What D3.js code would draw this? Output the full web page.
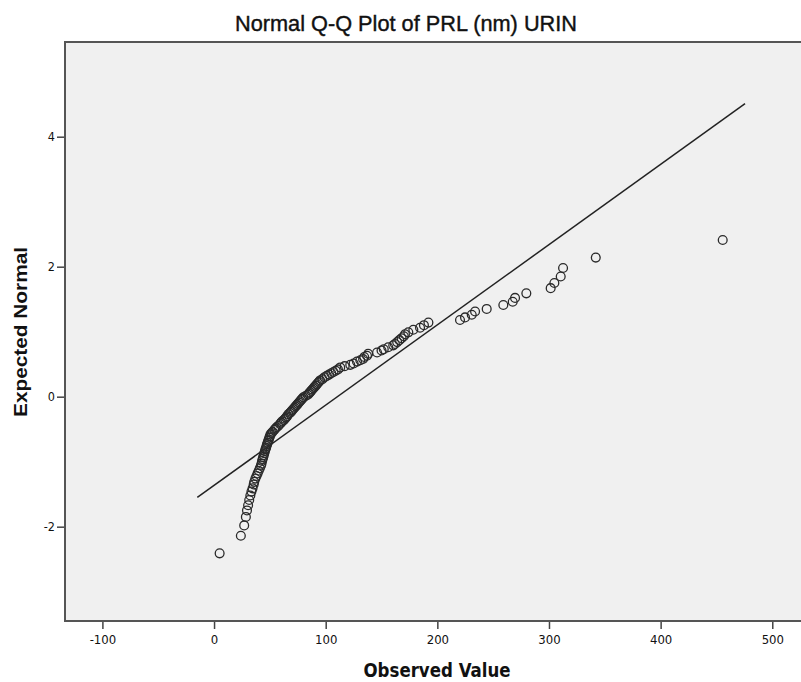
<!DOCTYPE html>
<html>
<head>
<meta charset="utf-8">
<script src="https://cdn.jsdelivr.net/npm/d3@7"></script>
<style>
  body { margin: 0; background: #fff; }
  .tick text { font-family: "DejaVu Sans Condensed", "DejaVu Sans", sans-serif; font-stretch: condensed; fill: #111; }
  .tick line { stroke: #444; stroke-width: 1.5; }
</style>
</head>
<body>
<div id="chart"></div>
<script>
var observed = [
  5, 24, 27, 28.5, 29.5, 30.5, 31.5, 32.5, 33.5, 34.5,
  35.5, 36, 37, 38, 39, 40, 41, 42, 42.5, 43,
  43.5, 44, 44.5, 45, 45.5, 46, 46.5, 47, 47.5, 48,
  48.5, 49, 49.5, 50, 50.5, 51.5, 52.5, 54, 55, 56,
  57.5, 59, 60, 61, 62.5, 63.5, 64.5, 65.5, 66.5, 68,
  69, 70, 71, 72, 73, 74, 75, 76, 77, 78,
  79, 80, 82, 84, 85, 86, 87, 88, 89, 90,
  91, 92, 93, 94, 95, 97, 99, 101, 103, 105,
  107, 109, 111, 113, 117, 122, 125, 128, 131, 133.5,
  134.5, 137, 138, 146, 150, 152, 156, 160.5, 162, 164,
  166, 168, 170, 171, 174, 178.5, 184.5, 188, 192, 220.3,
  224.8, 230.8, 233.8, 244.2, 259.1, 267.5, 269.6, 279.7, 301.5, 304.8,
  310.5, 312.6, 341.9, 455.6
];
var expected = [
  -2.41, -2.14, -1.98, -1.85, -1.75, -1.67, -1.59, -1.52, -1.46, -1.41,
  -1.35, -1.31, -1.26, -1.22, -1.18, -1.14, -1.10, -1.06, -1.03, -0.99,
  -0.96, -0.93, -0.90, -0.87, -0.84, -0.81, -0.79, -0.76, -0.73, -0.71,
  -0.68, -0.66, -0.63, -0.61, -0.58, -0.56, -0.54, -0.51, -0.49, -0.47,
  -0.45, -0.42, -0.40, -0.38, -0.36, -0.34, -0.32, -0.30, -0.27, -0.25,
  -0.23, -0.21, -0.19, -0.17, -0.15, -0.13, -0.11, -0.09, -0.07, -0.05,
  -0.03, -0.01, 0.01, 0.03, 0.05, 0.07, 0.09, 0.11, 0.13, 0.15,
  0.17, 0.19, 0.21, 0.23, 0.25, 0.27, 0.30, 0.32, 0.34, 0.36,
  0.38, 0.40, 0.42, 0.45, 0.47, 0.49, 0.51, 0.54, 0.56, 0.58,
  0.61, 0.63, 0.66, 0.68, 0.71, 0.73, 0.76, 0.79, 0.81, 0.84,
  0.87, 0.90, 0.93, 0.96, 0.99, 1.03, 1.06, 1.10, 1.14, 1.18,
  1.22, 1.26, 1.31, 1.35, 1.41, 1.46, 1.52, 1.59, 1.67, 1.75,
  1.85, 1.98, 2.14, 2.41
];

// Reference line: y = (x - mean) / sd, drawn over this observed range
var lineMean = 110.5,
    lineSd = 81,
    lineRange = [-15, 475.6];

var xTicks = [-100, 0, 100, 200, 300, 400, 500],
    yTicks = [-2, 0, 2, 4];

var margin = { top: 42, right: -5, bottom: 61, left: 65 },
    width = 801 - margin.left - margin.right,
    height = 682 - margin.top - margin.bottom;

var x = d3.scaleLinear()
    .domain([-133.5, 530.2])
    .range([0, width]);

var y = d3.scaleLinear()
    .domain([-3.451, 5.457])
    .range([height, 0]);

var svg = d3.select("#chart").append("svg")
    .attr("width", 801)
    .attr("height", 682);

// Title
svg.append("text")
    .attr("x", 406)
    .attr("y", 31)
    .attr("text-anchor", "middle")
    .attr("font-family", "Liberation Sans, Arial, sans-serif")
    .attr("font-size", 22)
    .attr("textLength", 342)
    .attr("lengthAdjust", "spacingAndGlyphs")
    .attr("fill", "#111")
    .attr("stroke", "#111")
    .attr("stroke-width", 0.4)
    .text("Normal Q-Q Plot of PRL (nm) URIN");

var g = svg.append("g")
    .attr("transform", "translate(" + margin.left + "," + margin.top + ")");

// Plot background
g.append("rect")
    .attr("width", width)
    .attr("height", height)
    .attr("fill", "#f0f0f0");

// Axes
var xAxis = d3.axisBottom(x)
    .tickValues(xTicks)
    .tickSize(8)
    .tickPadding(6)
    .tickFormat(d => d);
g.append("g")
    .attr("class", "x axis")
    .attr("transform", "translate(0," + height + ")")
    .call(xAxis)
    .call(a => a.select(".domain").remove())
    .selectAll("text").attr("font-size", 13);

var yAxis = d3.axisLeft(y)
    .tickValues(yTicks)
    .tickSize(8)
    .tickPadding(2)
    .tickFormat(d => d);
g.append("g")
    .attr("class", "y axis")
    .call(yAxis)
    .call(a => a.select(".domain").remove())
    .selectAll("text").attr("font-size", 12.5);

// Frame (left, top, bottom; right side runs off the page)
g.append("path")
    .attr("d", "M" + (width + 10) + ",0H0V" + height + "H" + (width + 10))
    .attr("fill", "none")
    .attr("stroke", "#555")
    .attr("stroke-width", 2);

// Reference line
g.append("line")
    .attr("x1", x(lineRange[0]))
    .attr("y1", y((lineRange[0] - lineMean) / lineSd))
    .attr("x2", x(lineRange[1]))
    .attr("y2", y((lineRange[1] - lineMean) / lineSd))
    .attr("stroke", "#222")
    .attr("stroke-width", 1.5);

// Points
g.selectAll("circle.pt")
    .data(observed)
  .enter().append("circle")
    .attr("class", "pt")
    .attr("cx", function(d) { return x(d); })
    .attr("cy", function(d, i) { return y(expected[i]); })
    .attr("r", 4.4)
    .attr("fill", "none")
    .attr("stroke", "#2a2a2a")
    .attr("stroke-width", 1.3);

// Axis titles
svg.append("text")
    .attr("x", 437)
    .attr("y", 677)
    .attr("text-anchor", "middle")
    .attr("font-family", "DejaVu Sans Condensed, DejaVu Sans, sans-serif")
    .attr("font-weight", "bold")
    .attr("font-size", 19)
    .attr("textLength", 147)
    .attr("lengthAdjust", "spacingAndGlyphs")
    .attr("fill", "#111")
    .text("Observed Value");

svg.append("text")
    .attr("transform", "translate(27,332) rotate(-90)")
    .attr("text-anchor", "middle")
    .attr("font-family", "Liberation Sans, Arial, sans-serif")
    .attr("font-weight", "bold")
    .attr("font-size", 18)
    .attr("textLength", 170)
    .attr("lengthAdjust", "spacingAndGlyphs")
    .attr("fill", "#111")
    .text("Expected Normal");
</script>
</body>
</html>
